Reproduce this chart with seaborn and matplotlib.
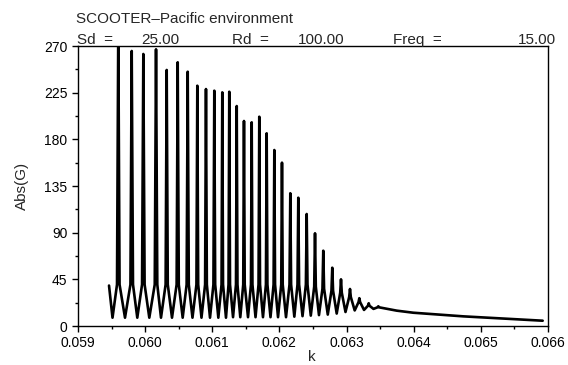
import numpy as np
import pandas as pd
import matplotlib
matplotlib.use("Agg")
import matplotlib.pyplot as plt
import seaborn as sns
from matplotlib.ticker import MultipleLocator, FormatStrFormatter

# ---- data ----
start_k = [0.059462]
start_val = [39.0]

peak_k = [0.059600, 0.059800, 0.059973, 0.060162, 0.060321, 0.060485, 0.060634,
          0.060777, 0.060906, 0.061030, 0.061149, 0.061253, 0.061364, 0.061472,
          0.061587, 0.061700, 0.061810, 0.061924, 0.062038, 0.062162, 0.062281,
          0.062406, 0.062530, 0.062653, 0.062787, 0.062917, 0.063051, 0.063190,
          0.063330, 0.063473]
peak_val = [290.0, 265.2, 262.3, 266.8, 246.9, 254.3, 245.2, 231.7, 228.5, 226.9,
            225.3, 225.9, 212.1, 197.7, 196.4, 201.8, 185.8, 169.7, 157.5, 128.0,
            123.7, 108.0, 89.4, 72.6, 56.2, 45.0, 35.7, 26.8, 21.9, 19.0]

trough_k = [0.059514, 0.059700, 0.059883, 0.060062, 0.060236, 0.060400, 0.060559,
            0.060705, 0.060839, 0.060966, 0.061090, 0.061204, 0.061309, 0.061417,
            0.061532, 0.061644, 0.061755, 0.061867, 0.061979, 0.062098, 0.062222,
            0.062344, 0.062467, 0.062589, 0.062720, 0.062853, 0.062984, 0.063121,
            0.063260, 0.063401]
trough_val = [8.0, 8.0, 8.0, 8.0, 8.0, 8.0, 8.0, 8.0, 8.0, 8.0, 8.0, 8.0,
              8.5, 8.5, 8.5, 8.5, 8.5, 8.5, 8.5, 8.5,
              9.0, 9.5, 10.0, 10.5, 11.0, 12.0, 13.5, 15.0, 15.5, 16.5]

# half-width of each spike at its shoulder level (k units) and that level
shoulder_dk = [0.000019, 0.000019, 0.000019, 0.000019, 0.000016, 0.000016, 0.000016,
               0.000013, 0.000013, 0.000013, 0.000011, 0.000011, 0.000011, 0.000011,
               0.000011, 0.000011, 0.000011, 0.000011, 0.000011, 0.000012, 0.000012,
               0.000012, 0.000012, 0.000012, 0.000012, 0.000012, 0.000012, 0.000012,
               0.000012, 0.000012]
shoulder_val = [40.0, 40.0, 40.0, 40.0, 40.0, 40.0, 40.0, 40.0, 40.0, 40.0,
                40.0, 40.0, 40.0, 40.0, 40.0, 40.0, 40.0, 40.0, 40.0, 40.0,
                40.0, 40.0, 38.0, 36.0, 34.0, 32.0, 28.0, 23.0, 19.5, 18.0]

tail_k = [0.063747, 0.063994, 0.064243, 0.064491, 0.064739, 0.064987, 0.065236,
          0.065483, 0.065732, 0.065921]
tail_val = [14.8, 12.8, 11.6, 10.3, 9.3, 8.4, 7.4, 6.5, 5.8, 5.1]

x_ticks = [0.059, 0.060, 0.061, 0.062, 0.063, 0.064, 0.065, 0.066]
y_ticks = [0, 45, 90, 135, 180, 225, 270]

title_text = "SCOOTER\u2013Pacific environment"
sd_label, sd_value = "Sd  =", "25.00"
rd_label, rd_value = "Rd  =", "100.00"
fq_label, fq_value = "Freq  =", "15.00"

# ---- assemble curve ----
pk = np.array(peak_k)
dk = np.array(shoulder_dk)
k_all = np.concatenate([start_k, trough_k, peak_k, pk - dk, pk + dk, tail_k])
g_all = np.concatenate([start_val, trough_val, peak_val, shoulder_val, shoulder_val, tail_val])
df = pd.DataFrame({"k": k_all, "G": g_all}).sort_values("k").reset_index(drop=True)

# ---- plot ----
sns.set_style("ticks")
plt.rcParams["font.family"] = ["Liberation Sans", "DejaVu Sans"]

fig = plt.figure(figsize=(5.68, 3.65), dpi=100)
ax = fig.add_axes([78 / 568, 1 - 326 / 365, 470 / 568, 280 / 365])

sns.lineplot(data=df, x="k", y="G", color="black", linewidth=1.9,
             estimator=None, sort=True, ax=ax)

ax.set_xlim(x_ticks[0], x_ticks[-1])
ax.set_ylim(y_ticks[0], y_ticks[-1])
ax.set_xticks(x_ticks)
ax.set_yticks(y_ticks)
ax.xaxis.set_major_formatter(FormatStrFormatter("%.3f"))
ax.xaxis.set_minor_locator(MultipleLocator(0.0005))
ax.yaxis.set_minor_locator(MultipleLocator(22.5))
ax.tick_params(axis="both", which="major", direction="out", length=4, width=1,
               color="black", labelsize=10, labelcolor="black")
ax.tick_params(axis="both", which="minor", direction="out", length=2.5, width=1,
               color="black")
for s in ax.spines.values():
    s.set_visible(True)
    s.set_color("black")
    s.set_linewidth(1.0)
ax.set_xlabel("")
ax.set_ylabel("")

fig.text(312 / 568, 1 - 357 / 365, "k", ha="center", va="center", fontsize=11)
fig.text(22 / 568, 1 - 186 / 365, "Abs(G)", ha="center", va="center",
         rotation=90, fontsize=11)

fig.text(76 / 568, 1 - 23 / 365, title_text, ha="left", va="baseline", fontsize=11)
yb = 1 - 44 / 365
fig.text(77 / 568, yb, sd_label, ha="left", va="baseline", fontsize=11)
fig.text(141 / 568, yb, sd_value, ha="left", va="baseline", fontsize=11)
fig.text(232 / 568, yb, rd_label, ha="left", va="baseline", fontsize=11)
fig.text(298 / 568, yb, rd_value, ha="left", va="baseline", fontsize=11)
fig.text(393 / 568, yb, fq_label, ha="left", va="baseline", fontsize=11)
fig.text(556 / 568, yb, fq_value, ha="right", va="baseline", fontsize=11)

fig.savefig("out.png", dpi=100)
